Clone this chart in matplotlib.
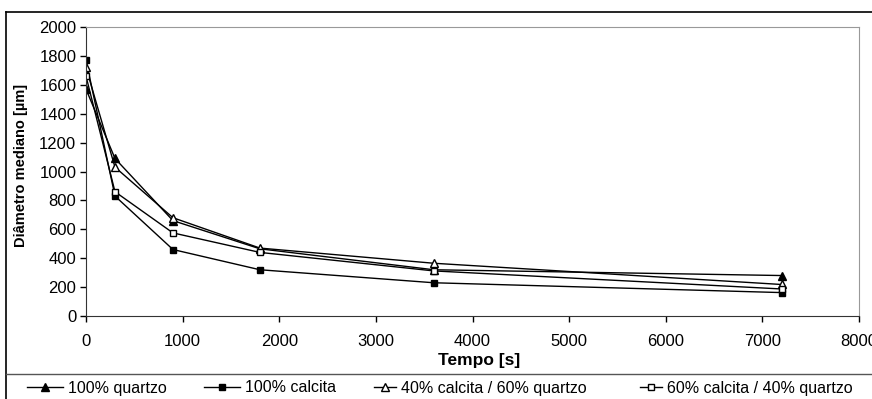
import matplotlib.pyplot as plt
from matplotlib.lines import Line2D

plt.rcParams['font.family'] = ['Liberation Sans', 'DejaVu Sans']

tempo = [0, 300, 900, 1800, 3600, 7200]
quartzo = [1570, 1090, 660, 465, 320, 280]
calcita = [1770, 830, 460, 320, 230, 162]
c40_q60 = [1720, 1030, 680, 470, 365, 218]
c60_q40 = [1660, 860, 575, 440, 312, 187]

W, H = 872, 399
fig = plt.figure(figsize=(W / 100, H / 100), dpi=100)
ax = fig.add_axes([86 / W, 1 - 316 / H, (859 - 86) / W, (316 - 27) / H])

ms = 5.5
l1, = ax.plot(tempo, quartzo, '-^', color='black', lw=1, ms=ms, mfc='black', label='100% quartzo')
l2, = ax.plot(tempo, calcita, '-s', color='black', lw=1, ms=ms - 0.5, mfc='black', label='100% calcita')
l3, = ax.plot(tempo, c40_q60, '-^', color='black', lw=1, ms=ms, mfc='white', label='40% calcita / 60% quartzo')
l4, = ax.plot(tempo, c60_q40, '-s', color='black', lw=1, ms=ms - 0.5, mfc='white', label='60% calcita / 40% quartzo')

ax.set_xlim(0, 8000)
ax.set_ylim(0, 2000)
ax.set_xticks(range(0, 8001, 1000))
ax.set_yticks(range(0, 2001, 200))
ax.tick_params(direction='out', length=4, width=1, labelsize=12, colors='black')
ax.tick_params(axis='x', pad=9)
ax.tick_params(axis='y', pad=3)
for s in ['top', 'right']:
    ax.spines[s].set_color('#999999')
for s in ['left', 'bottom']:
    ax.spines[s].set_color('#333333')
ax.set_xlabel('Tempo [s]', fontsize=12.5, fontweight='bold')
ax.set_ylabel('Diâmetro mediano [µm]', fontsize=10.5, fontweight='bold')
ax.xaxis.set_label_coords(0.508, -0.128)
ax.yaxis.set_label_coords(-0.075, 0.522)

# outer frame and legend separator
fig.add_artist(Line2D([6 / W, 1], [1 - 12 / H, 1 - 12 / H], transform=fig.transFigure, color='black', lw=1.2))
fig.add_artist(Line2D([6 / W, 6 / W], [0, 1 - 12 / H], transform=fig.transFigure, color='black', lw=1.2))
fig.add_artist(Line2D([6 / W, 1], [1 - 374 / H, 1 - 374 / H], transform=fig.transFigure, color='#555555', lw=1))

# legend entries placed individually, as in the original
entries = [(l1, 27, 2.25), (l2, 204, 2.25), (l3, 374, 1.4), (l4, 640, 1.4)]
for h, x, hl in entries:
    fig.legend(handles=[h], loc='center left', bbox_to_anchor=(x / W, 1 - 388 / H), frameon=False,
               fontsize=11.5, handlelength=hl, handletextpad=0.3, borderaxespad=0, borderpad=0)

fig.savefig('out.png', dpi=100)
